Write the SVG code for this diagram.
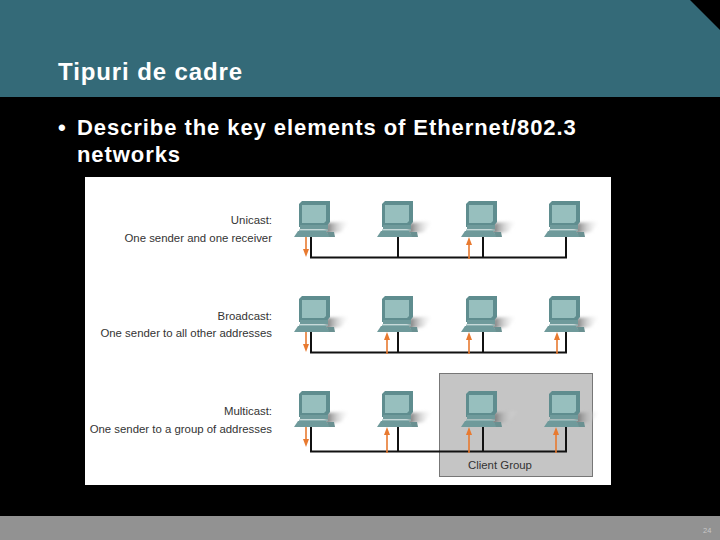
<svg xmlns="http://www.w3.org/2000/svg" width="720" height="540" viewBox="0 0 720 540">
<defs>
<style>
text{font-family:"Liberation Sans",Arial,sans-serif}
.t{font-size:24px;font-weight:700;fill:#fff;letter-spacing:.9px}
.b{font-size:22px;font-weight:700;fill:#fff;letter-spacing:.93px}
.d{font-size:11.400px;fill:#333;text-anchor:end}
.w{fill:none;stroke:#111;stroke-width:2}
.a{fill:none;stroke:#e87a30;stroke-width:1.600}
.h{fill:#e87a30}
</style>
<linearGradient id="sh" x1="0" x2="1"><stop offset="0" stop-color="#666"/><stop offset="1" stop-color="#fff" stop-opacity="0"/></linearGradient>
<filter id="bl" x="-30%" y="-30%" width="160%" height="160%"><feGaussianBlur stdDeviation="1.500"/></filter>
<g id="pc">
<path d="M28 22 L52 20 L42 31 L26 33Z" fill="url(#sh)" filter="url(#bl)"/>
<path d="M0 3 L3 0 L31 0 L31 21 L27 26 L0 26Z" fill="#5f8d8f"/>
<path d="M3 4 L27 4 L27 20 L25 22 L3 22Z" fill="#97bfbe"/>
<rect x="1" y="24" width="28" height="4" fill="#6f9a9b"/>
<rect x="0" y="28.500" width="29" height="1.500" fill="#8fb3b3"/>
<path d="M-1 30 L27 30 L31 36 L-5 36Z" fill="#6f9a9b"/>
<path d="M28 31 L35 31 L36 36 L30 36Z" fill="#6a9091"/>
</g>
<path id="up" d="M0 0 L-3 8 L3 8Z" class="h"/>
<path id="dn" d="M0 0 L-3 -8 L3 -8Z" class="h"/>
</defs>
<rect width="720" height="540" fill="#000"/>
<path d="M0 0H690L720 30V97H0Z" fill="#346a78"/>
<rect y="516" width="720" height="24" fill="#929292"/>
<text class="t" x="58" y="80">Tipuri de cadre</text>
<text class="b" x="58" y="135">•</text>
<text class="b" x="77" y="135">Describe the key elements of Ethernet/802.3</text>
<text class="b" x="77" y="162">networks</text>
<text x="703" y="533" font-size="7.500" fill="#c8c8c8">24</text>
<rect x="85" y="177" width="526" height="308" fill="#fff"/>
<rect id="client-group" x="439.500" y="373.500" width="153" height="103" fill="#c5c5c5" stroke="#777"/>
<g id="node-labels">
<text class="d" x="272" y="224">Unicast:</text>
<text class="d" x="272" y="242">One sender and one receiver</text>
<text class="d" x="272" y="319.500">Broadcast:</text>
<text class="d" x="272" y="337">One sender to all other addresses</text>
<text class="d" x="272" y="414.500">Multicast:</text>
<text class="d" x="272" y="432.500">One sender to a group of addresses</text>
<text x="468" y="469" font-size="11.400" fill="#333">Client Group</text>
</g>
<g id="pc-u1"><use href="#pc" x="299" y="201"/></g>
<g id="pc-u2"><use href="#pc" x="382" y="201"/></g>
<g id="pc-u3"><use href="#pc" x="466" y="201"/></g>
<g id="pc-u4"><use href="#pc" x="549" y="201"/></g>
<g id="pc-b1"><use href="#pc" x="299" y="296"/></g>
<g id="pc-b2"><use href="#pc" x="382" y="296"/></g>
<g id="pc-b3"><use href="#pc" x="466" y="296"/></g>
<g id="pc-b4"><use href="#pc" x="549" y="296"/></g>
<g id="pc-m1"><use href="#pc" x="299" y="391"/></g>
<g id="pc-m2"><use href="#pc" x="382" y="391"/></g>
<g id="pc-m3"><use href="#pc" x="466" y="391"/></g>
<g id="pc-m4"><use href="#pc" x="549" y="391"/></g>
<g id="connectors">
<path class="w" d="M311 237V257.500H566V237M398 237V257.500M483 237V257.500"/>
<path class="w" d="M311 332V352.500H566V332M398 332V352.500M483 332V352.500"/>
<path class="w" d="M311 427V451.500H566V427M398 427V451.500M483 427V451.500"/>
<g class="a">
<path d="M306 237V250"/><path d="M469 244V259"/>
<path d="M306 332V345"/><path d="M387 339V354"/><path d="M469 339V354"/><path d="M557 339V354"/>
<path d="M306 427V440"/><path d="M387 434V453"/><path d="M469 434V453"/><path d="M556 434V453"/>
</g>
<use href="#dn" x="306" y="257"/><use href="#up" x="469" y="237"/>
<use href="#dn" x="306" y="352"/><use href="#up" x="387" y="332"/><use href="#up" x="469" y="332"/><use href="#up" x="557" y="332"/>
<use href="#dn" x="306" y="447"/><use href="#up" x="387" y="427"/><use href="#up" x="469" y="427"/><use href="#up" x="556" y="427"/>
</g>
</svg>
